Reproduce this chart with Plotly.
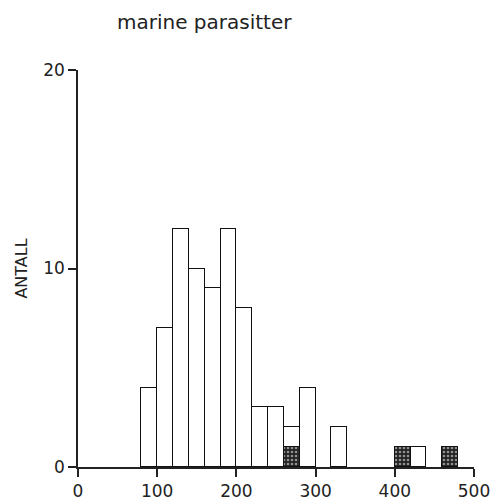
import plotly.graph_objects as go

bin_starts = [80, 100, 120, 140, 160, 180, 200, 220, 240, 260, 280, 320, 400, 420, 460]
white_counts = [4, 7, 12, 10, 9, 12, 8, 3, 3, 1, 4, 2, 0, 1, 0]
shaded_counts = [0, 0, 0, 0, 0, 0, 0, 0, 0, 1, 0, 0, 1, 0, 1]
bin_width = 20

title_text = "marine parasitter"
y_title = "ANTALL"
x_ticks = [0, 100, 200, 300, 400, 500]
y_ticks = [0, 10, 20]

centers = [s + bin_width / 2 for s in bin_starts]

FONT = "DejaVu Sans, Liberation Sans, sans-serif"

fig = go.Figure()
fig.add_trace(go.Bar(
    x=centers, y=shaded_counts, width=bin_width,
    marker=dict(color="#222", line=dict(color="#111", width=1.5),
                pattern=dict(shape=".", fgcolor="white", bgcolor="#222", size=4, solidity=0.35)),
    showlegend=False,
))
fig.add_trace(go.Bar(
    x=centers, y=white_counts, width=bin_width,
    marker=dict(color="white", line=dict(color="#111", width=1.5)),
    showlegend=False,
))

fig.update_layout(
    barmode="stack",
    bargap=0,
    width=493, height=503,
    margin=dict(l=78, r=19, t=70, b=36),
    paper_bgcolor="white", plot_bgcolor="white",
    font=dict(family=FONT, color="#222", size=17),
    title=dict(text=title_text, x=117 / 493, xanchor="left", y=1 - 22 / 503, yanchor="middle",
               font=dict(size=20, color="#222", family=FONT)),
    xaxis=dict(range=[0, 500], tickvals=x_ticks, showline=True, linecolor="#222", linewidth=1.5,
               ticks="outside", ticklen=8, tickcolor="#222", tickwidth=1.5, showgrid=False,
               zeroline=False, tickfont=dict(size=17), automargin=False),
    yaxis=dict(range=[0, 20], tickvals=y_ticks, showline=True, linecolor="#222", linewidth=1.5,
               ticks="outside", ticklen=8, tickcolor="#222", tickwidth=1.5, showgrid=False,
               zeroline=False, tickfont=dict(size=17), automargin=False,
               title=dict(text=y_title, font=dict(size=16), standoff=12)),
)

fig.write_html("out.html")
